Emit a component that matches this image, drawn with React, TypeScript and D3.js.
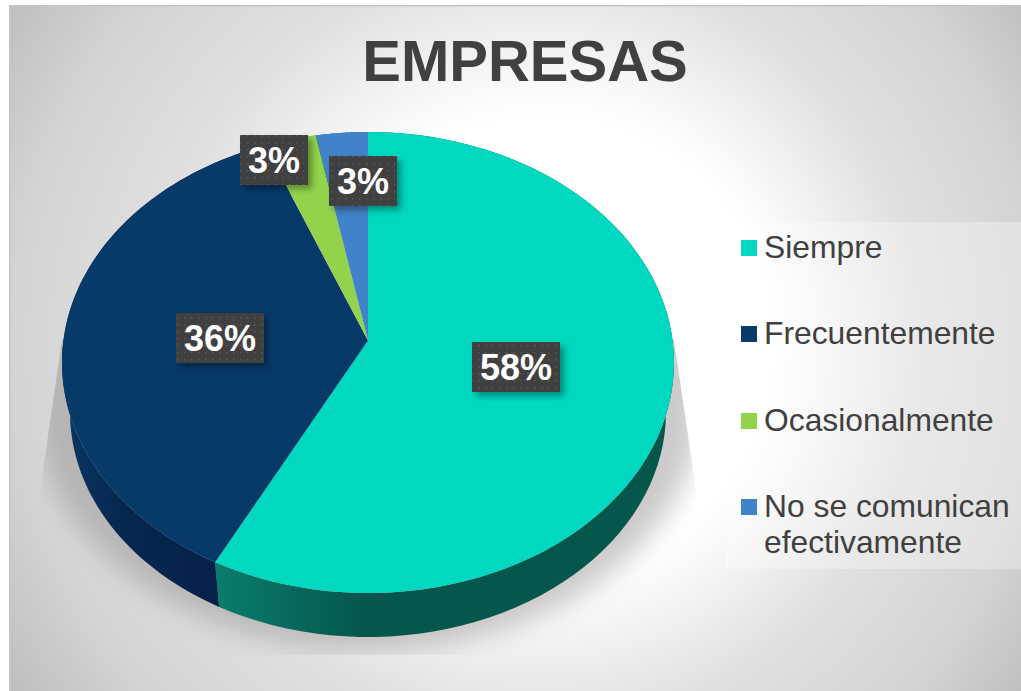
import React from "react";
import * as d3 from "d3";

const categories = ["Siempre", "Frecuentemente", "Ocasionalmente", "No se comunican efectivamente"];
const values = [57.6, 36.4, 3, 3];
const topColors = ["#00d8c0", "#073a69", "#92d34b", "#4083c9"];
const sideColors = ["url(#tealSide)", "url(#navySide)", "#557a2b", "#26507c"];
const title = "EMPRESAS";
const labelAnchors = [[516, 367], [220, 338], [274, 160], [363, 181]];
const legendRows = [[["Siempre"], 240], [["Frecuentemente"], 326], [["Ocasionalmente"], 413], [["No se comunican", "efectivamente"], 499]];

const W = 1021, H = 691;
const cx = 368, cy = 362.5, rx = 306, ry = 230.5, c = 0.095;
const bx = 298, by = 412, bry = 225;

function project(theta: number, r: number, X: number, Y: number, RX: number, RY: number): [number, number] {
  const u = r * Math.sin(theta), v = r * Math.cos(theta);
  const w = 1 + c * v;
  const up = (u * Math.sqrt(1 - c * c)) / w;
  const vp = (v + c) / w;
  return [X + RX * up, Y - RY * vp];
}

export default function App() {
  const arcs = d3.pie<number>().sort(null)(values);
  const line = d3.line();
  const sample = (a: number, b: number) => d3.range(0, 81).map((i) => a + ((b - a) * i) / 80);
  const top = (a: number) => project(a, 1, cx, cy, rx, ry);
  const bottom = (a: number) => project(a, 1, cx, by, bx, bry);
  const apex = project(0, 0, cx, cy, rx, ry);

  return (
    <svg width={W} height={H} style={{ position: "absolute", left: 0, top: 0, fontFamily: "'Liberation Sans', Arial, sans-serif" }}>
      <defs>
        <radialGradient id="bg" gradientUnits="userSpaceOnUse" cx={520} cy={345} r={640} fx={560} fy={345}>
          <stop offset="0" stopColor="#ffffff" />
          <stop offset="0.36" stopColor="#ffffff" />
          <stop offset="0.45" stopColor="#f4f4f4" />
          <stop offset="0.6" stopColor="#e0e0e0" />
          <stop offset="0.8" stopColor="#d4d4d4" />
          <stop offset="0.95" stopColor="#c0c0c0" />
        </radialGradient>
        <linearGradient id="tealSide" gradientUnits="userSpaceOnUse" x1={216} x2={360} y1={0} y2={0}>
          <stop offset="0" stopColor="#097d6c" />
          <stop offset="1" stopColor="#05574c" />
        </linearGradient>
        <linearGradient id="navySide" gradientUnits="userSpaceOnUse" x1={216} x2={66} y1={0} y2={0}>
          <stop offset="0" stopColor="#06214a" />
          <stop offset="0.6" stopColor="#06274f" />
          <stop offset="1" stopColor="#073660" />
        </linearGradient>
        <filter id="blur" x="-20%" y="-20%" width="140%" height="140%">
          <feGaussianBlur stdDeviation="13" />
        </filter>
        <filter id="labelShadow" x="-30%" y="-30%" width="160%" height="160%">
          <feGaussianBlur stdDeviation="3" />
        </filter>
        <pattern id="dots" width="7" height="7" patternUnits="userSpaceOnUse">
          <rect x="2" y="2" width="1.5" height="1.5" fill="#6a6a6a" opacity="0.6" />
        </pattern>
        <clipPath id="shadowClip">
          <polygon points="62,340 674,340 696,490 696,655 40,655 40,490" />
        </clipPath>
      </defs>

      <rect x={9} y={5} width={W - 9} height={H - 5} fill="url(#bg)" />
      <rect x={9} y={5} width={W - 9} height={1.5} fill="#c4c4c4" />
      <rect x={9} y={5} width={1.5} height={H - 5} fill="#c4c4c4" />

      <g clipPath="url(#shadowClip)">
        <ellipse cx={368} cy={405} rx={332} ry={245} fill="#8f8989" opacity={0.45} filter="url(#blur)" />
      </g>

      {arcs.map((d, i) => {
        const pts = sample(d.startAngle, d.endAngle);
        const path = line([...pts.map(bottom), ...pts.slice().reverse().map(top)]) + "Z";
        return <path key={i} d={path} fill={sideColors[i]} />;
      })}
      {arcs.map((d, i) => {
        const pts = sample(d.startAngle, d.endAngle);
        return <path key={i} d={line([apex, ...pts.map(top)]) + "Z"} fill={topColors[i]} />;
      })}

      <text x={525} y={81} textAnchor="middle" fontSize={58} fontWeight={700} fill="#404040">{title}</text>

      {values.map((v, i) => {
        const t = `${Math.round(v)}%`;
        const [x, y] = labelAnchors[i];
        const w = t.length === 3 ? 88 : 68;
        return (
          <g key={i}>
            <rect x={x - w / 2 + 4} y={y - 25 + 4} width={w} height={50} fill="#000" opacity={0.35} filter="url(#labelShadow)" />
            <rect x={x - w / 2} y={y - 25} width={w} height={50} fill="#404040" />
            <rect x={x - w / 2} y={y - 25} width={w} height={50} fill="url(#dots)" />
            <text x={x} y={y + 13} textAnchor="middle" fontSize={36} fontWeight={700} fill="#fff">{t}</text>
          </g>
        );
      })}

      <rect x={726} y={222} width={295} height={347} fill="#fff" opacity={0.3} />
      {legendRows.map(([lines, y]: any, i) => (
        <g key={i}>
          <rect x={741} y={y} width={16} height={16} fill={topColors[i]} />
          {lines.map((s: string, j: number) => (
            <text key={j} x={764} y={y + 18 + j * 36} fontSize={31.8} fill="#404040">{s}</text>
          ))}
        </g>
      ))}
    </svg>
  );
}
